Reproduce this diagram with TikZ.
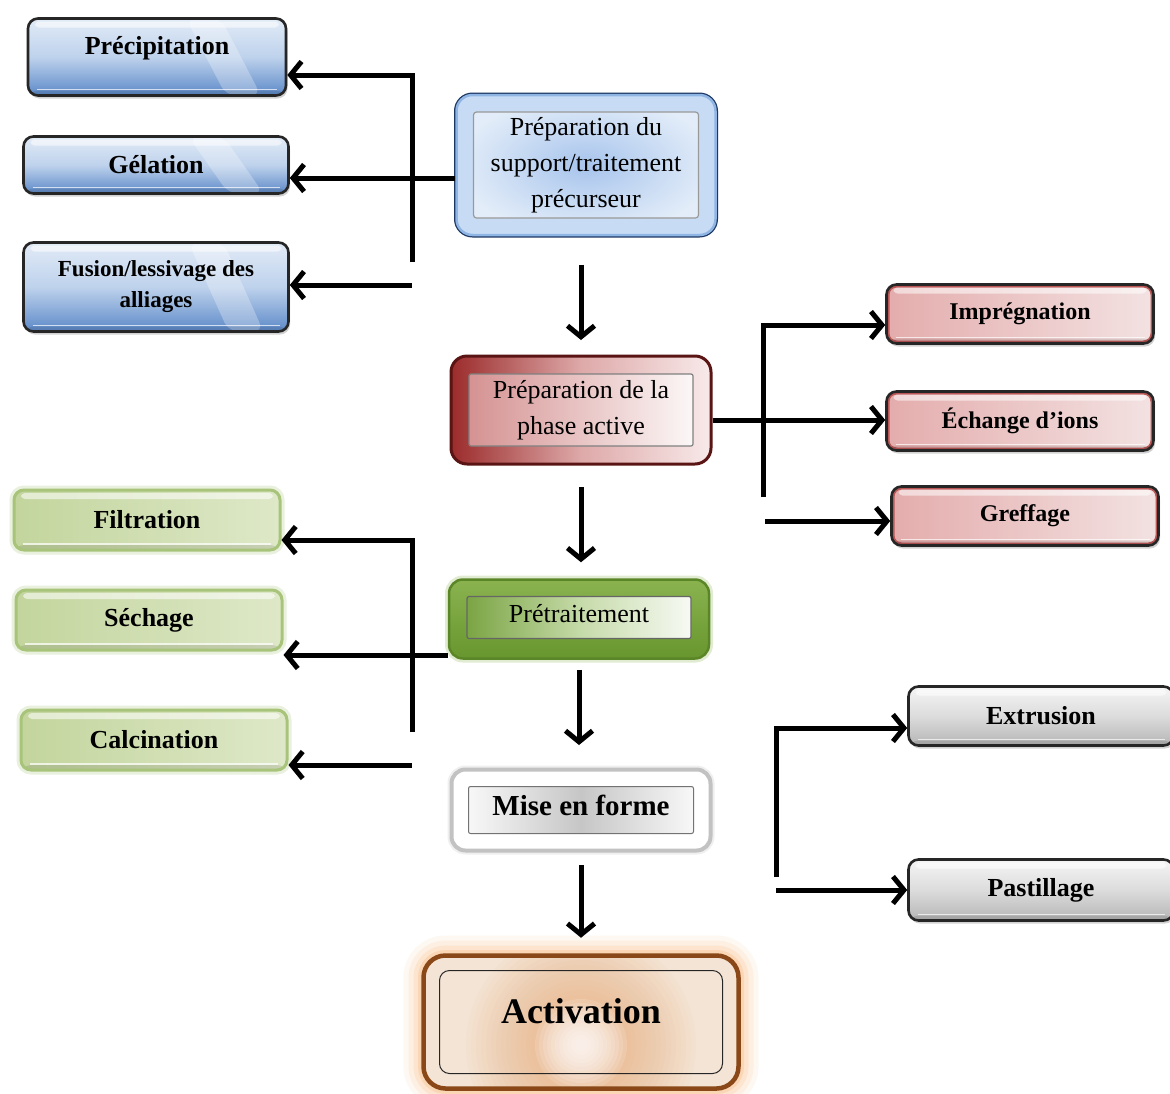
\documentclass[tikz,border=0pt]{standalone}
\usepackage{fontspec}
\setmainfont{Liberation Serif}
\usetikzlibrary{arrows.meta,shadows}

% palette
\definecolor{blueTop}{HTML}{E2EBF7}
\definecolor{blueMid}{HTML}{BED2EC}
\definecolor{blueBot}{HTML}{5C89C8}
\definecolor{prepEdge}{HTML}{1D3763}
\definecolor{prepRing}{HTML}{8FB5E4}
\definecolor{prepFill}{HTML}{C7DCF4}
\definecolor{prepIn}{HTML}{A7C4EC}
\definecolor{prepOut}{HTML}{E3EDF9}
\definecolor{redL}{HTML}{E4ACAC}
\definecolor{redR}{HTML}{F3E2E2}
\definecolor{redRing}{HTML}{BA5656}
\definecolor{phaseEdge}{HTML}{5A1414}
\definecolor{phaseL}{HTML}{9B2B2B}
\definecolor{phaseM}{HTML}{DEA9A9}
\definecolor{phaseR}{HTML}{F8EAEA}
\definecolor{phInL}{HTML}{D28A8A}
\definecolor{grnL}{HTML}{C3D59D}
\definecolor{grnR}{HTML}{DEE8C8}
\definecolor{grnEdge}{HTML}{A8C47B}
\definecolor{pretTop}{HTML}{8AB34F}
\definecolor{pretBot}{HTML}{68962E}
\definecolor{pretEdge}{HTML}{5B8628}
\definecolor{pretInL}{HTML}{6F9C34}
\definecolor{pretInM}{HTML}{C5DAA8}
\definecolor{greyTop}{HTML}{F5F5F5}
\definecolor{greyMid}{HTML}{DCDCDC}
\definecolor{greyBot}{HTML}{B5B5B5}
\definecolor{miseEdge}{HTML}{C2C2C2}
\definecolor{miseMid}{HTML}{C6C6C6}
\definecolor{actEdge}{HTML}{F4E4D5}
\definecolor{actMid}{HTML}{EBAA74}
\definecolor{actBorder}{HTML}{8A4818}
\definecolor{actGlowC}{HTML}{F6A65C}

\newcommand\stepfont{\fontsize{26}{30}\selectfont\bfseries}
\newcommand\redfont{\fontsize{24}{30}\selectfont\bfseries}
\newcommand\fusfont{\fontsize{23}{31}\selectfont\bfseries}
\newcommand\procfont{\fontsize{26}{36}\selectfont}

% glossy highlights inside a box
\newcommand\glossy{%
  \fill[white,opacity=.55,rounded corners=4pt]
    ([shift={(7pt,-3pt)}]path picture bounding box.north west) rectangle
    ([shift={(-7pt,-9pt)}]path picture bounding box.north east);
  \draw[white,opacity=.7,line width=1.4pt]
    ([shift={(9pt,6pt)}]path picture bounding box.south west) --
    ([shift={(-9pt,6pt)}]path picture bounding box.south east);
  \fill[black,opacity=.10]
    ([yshift=5pt]path picture bounding box.south west) rectangle
    (path picture bounding box.south east);}
\newcommand\streak{%
  \fill[white,opacity=.28]
    ([xshift=-100pt]path picture bounding box.north east) --
    ([xshift=-65pt]path picture bounding box.north east) --
    ([xshift=-25pt]path picture bounding box.south east) --
    ([xshift=-60pt]path picture bounding box.south east) -- cycle;}
% inset panel of the process boxes
\newcommand\innerpanel[4]{%
  \shadedraw[#4]
    ([shift={(#1,-#2)}]path picture bounding box.north west) rectangle
    ([shift={(-#1,#3)}]path picture bounding box.south east);}

\begin{document}
\begin{tikzpicture}[x=1pt,y=-1pt,
  conn/.style={line width=5pt, -{Straight Barb[length=11pt,width=27pt]}},
  sidebase/.style={rounded corners=10pt, align=center, inner sep=0pt, text=black},
  softshadow/.style={drop shadow={opacity=.35, shadow xshift=1.5pt, shadow yshift=-3pt}},
  blueside/.style={sidebase, softshadow, draw=black!85, line width=2.6pt,
    top color=blueTop, bottom color=blueBot, middle color=blueMid,
    path picture={\streak\glossy}, font=\stepfont},
  redside/.style={sidebase, softshadow, draw=black!85, line width=2.6pt,
    left color=redL, right color=redR,
    path picture={\draw[redRing,line width=6pt,rounded corners=10pt]
      (path picture bounding box.north west) rectangle (path picture bounding box.south east);\glossy},
    font=\redfont},
  greenside/.style={sidebase, preaction={draw=grnEdge, line width=9pt, opacity=.25},
    draw=grnEdge, line width=3pt, left color=grnL, right color=grnR,
    path picture={\glossy}, font=\stepfont},
  greyside/.style={sidebase, softshadow, draw=black!85, line width=2.6pt,
    top color=greyTop, bottom color=greyBot, middle color=greyMid,
    path picture={\glossy}, font=\stepfont},
  procbase/.style={rounded corners=16pt, align=center, inner sep=0pt, text=black, font=\procfont}
]
\path[use as bounding box, fill=white] (0,0) rectangle (1170,1093);

% ---------- central process column ----------
\node[procbase, preaction={draw=prepEdge, line width=5pt}, draw=prepRing, line width=2.5pt,
  fill=prepFill, minimum width=259pt, minimum height=140pt,
  path picture={\innerpanel{17pt}{17pt}{17pt}{inner color=prepIn, outer color=prepOut,
     draw=black!40, line width=1.2pt, rounded corners=3pt}}]
  (prep) at (586,165) {Préparation du\\support/traitement\\précurseur};

\node[procbase, draw=phaseEdge, line width=3pt,
  left color=phaseL, right color=phaseR, middle color=phaseM,
  minimum width=260pt, minimum height=108pt,
  path picture={\innerpanel{18pt}{18pt}{18pt}{left color=phInL, right color=white,
     draw=black!50, line width=1.2pt, rounded corners=2pt}}]
  (phase) at (581,410) {Préparation de la\\phase active};

\node[procbase, rounded corners=14pt, preaction={draw=pretTop, line width=8pt, opacity=.25},
  draw=pretEdge, line width=2.5pt, top color=pretTop, bottom color=pretBot,
  minimum width=260pt, minimum height=79pt, text depth=12pt,
  path picture={\innerpanel{18pt}{17pt}{20pt}{left color=pretInL, right color=white, middle color=pretInM,
     draw=black!60, line width=1.2pt, rounded corners=2pt}}]
  (pret) at (579,619) {Prétraitement};

\node[procbase, rounded corners=14pt, preaction={draw=miseEdge, line width=8pt, opacity=.25},
  draw=miseEdge, line width=4pt, fill=white,
  minimum width=259pt, minimum height=81pt, text depth=10pt, font=\fontsize{29}{34}\selectfont\bfseries,
  path picture={\innerpanel{17pt}{17pt}{17pt}{left color=white, right color=white, middle color=miseMid,
     draw=black!55, line width=1pt, rounded corners=2pt}}]
  (mise) at (581,810) {Mise en forme};

\node[procbase, rounded corners=22pt,
  preaction={draw=actGlowC, line width=40pt, opacity=.08},
  preaction={draw=actGlowC, line width=30pt, opacity=.10},
  preaction={draw=actGlowC, line width=20pt, opacity=.14},
  preaction={draw=actGlowC, line width=11pt, opacity=.22},
  draw=actBorder, line width=4.5pt, fill=actEdge,
  minimum width=315pt, minimum height=133pt, text depth=22pt,
  font=\fontsize{36}{40}\selectfont\bfseries,
  path picture={
    \coordinate (actcore) at ([yshift=-23pt]path picture bounding box.center);
    \foreach \r in {115,110,...,10} {\fill[actMid,opacity=.05] (actcore) circle (\r pt);}
    \foreach \r in {46,42,...,4} {\fill[white,opacity=.15] (actcore) circle (\r pt);}
    \draw[black!85, line width=1pt, rounded corners=10pt]
      ([shift={(16pt,-15pt)}]path picture bounding box.north west) rectangle
      ([shift={(-16pt,15pt)}]path picture bounding box.south east);}]
  (act) at (581,1022) {Activation};

% ---------- blue branch ----------
\node[blueside, minimum width=258pt, minimum height=77pt, text depth=24pt] (prec) at (157,57) {Précipitation};
\node[blueside, minimum width=265pt, minimum height=57pt] (gel) at (156,165) {Gélation};
\node[blueside, minimum width=265pt, minimum height=89pt, font=\fusfont] (fus) at (156,287) {Fusion/lessivage des\\alliages};

% ---------- red branch ----------
\node[redside, minimum width=267pt, minimum height=59pt] (impr) at (1020,314) {Imprégnation};
\node[redside, minimum width=267pt, minimum height=59pt] (ech) at (1020,421) {Échange d’ions};
\node[redside, minimum width=267pt, minimum height=59pt] (greff) at (1025,516) {Greffage};

% ---------- green branch ----------
\node[greenside, minimum width=266pt, minimum height=60pt] (filt) at (147,520) {Filtration};
\node[greenside, minimum width=266pt, minimum height=60pt] (sech) at (149,620) {Séchage};
\node[greenside, minimum width=266pt, minimum height=60pt] (calc) at (154,740) {Calcination};

% ---------- grey branch ----------
\node[greyside, minimum width=265pt, minimum height=59pt] (extr) at (1041,716) {Extrusion};
\node[greyside, minimum width=265pt, minimum height=61pt] (past) at (1041,890) {Pastillage};

% ---------- tree junctions ----------
\coordinate (bt1) at (412,75);
\coordinate (bt2) at (412,262);
\coordinate (bt3) at (412,285);
\coordinate (rt1) at (763,325);
\coordinate (rt2) at (763,497);
\coordinate (rt3) at (765,521);
\coordinate (gt1) at (412,540);
\coordinate (gt2) at (412,732);
\coordinate (gt3) at (412,765);
\coordinate (yt1) at (776,728);
\coordinate (yt2) at (776,877);
\coordinate (yt3) at (776,890);

% ---------- connectors ----------
\draw[conn] (bt2) -- (bt1) -- (bt1 -| prec.east);
\draw[conn] ([shift={(0,13)}]prep.west) -- ([shift={(0,13)}]prep.west -| gel.east);
\draw[conn] (bt3) -- (bt3 -| fus.east);

\draw[conn] (rt2) -- (rt1) -- (rt1 -| impr.west);
\draw[conn] ([shift={(0,10)}]phase.east) -- ([shift={(0,10)}]phase.east -| ech.west);
\draw[conn] (rt3) -- (rt3 -| greff.west);

\draw[conn] (gt2) -- (gt1) -- (gt1 -| filt.east);
\draw[conn] ([shift={(0,36)}]pret.west) -- ([shift={(0,36)}]pret.west -| sech.east);
\draw[conn] (gt3) -- (gt3 -| calc.east);

\draw[conn] (yt2) -- (yt1) -- (yt1 -| extr.west);
\draw[conn] (yt3) -- (yt3 -| past.west);

\draw[conn, shorten <=28.5pt, shorten >=14.5pt] (prep.south -| phase.north) -- (phase.north);
\draw[conn, shorten <=21.5pt, shorten >=16pt] (phase.south) -- (phase.south |- pret.north);
\draw[conn, shorten <=10pt, shorten >=22.5pt] (pret.south) -- (pret.south |- mise.north);
\draw[conn, shorten <=12.5pt, shorten >=15.5pt] (mise.south) -- (act.north);
\end{tikzpicture}
\end{document}
